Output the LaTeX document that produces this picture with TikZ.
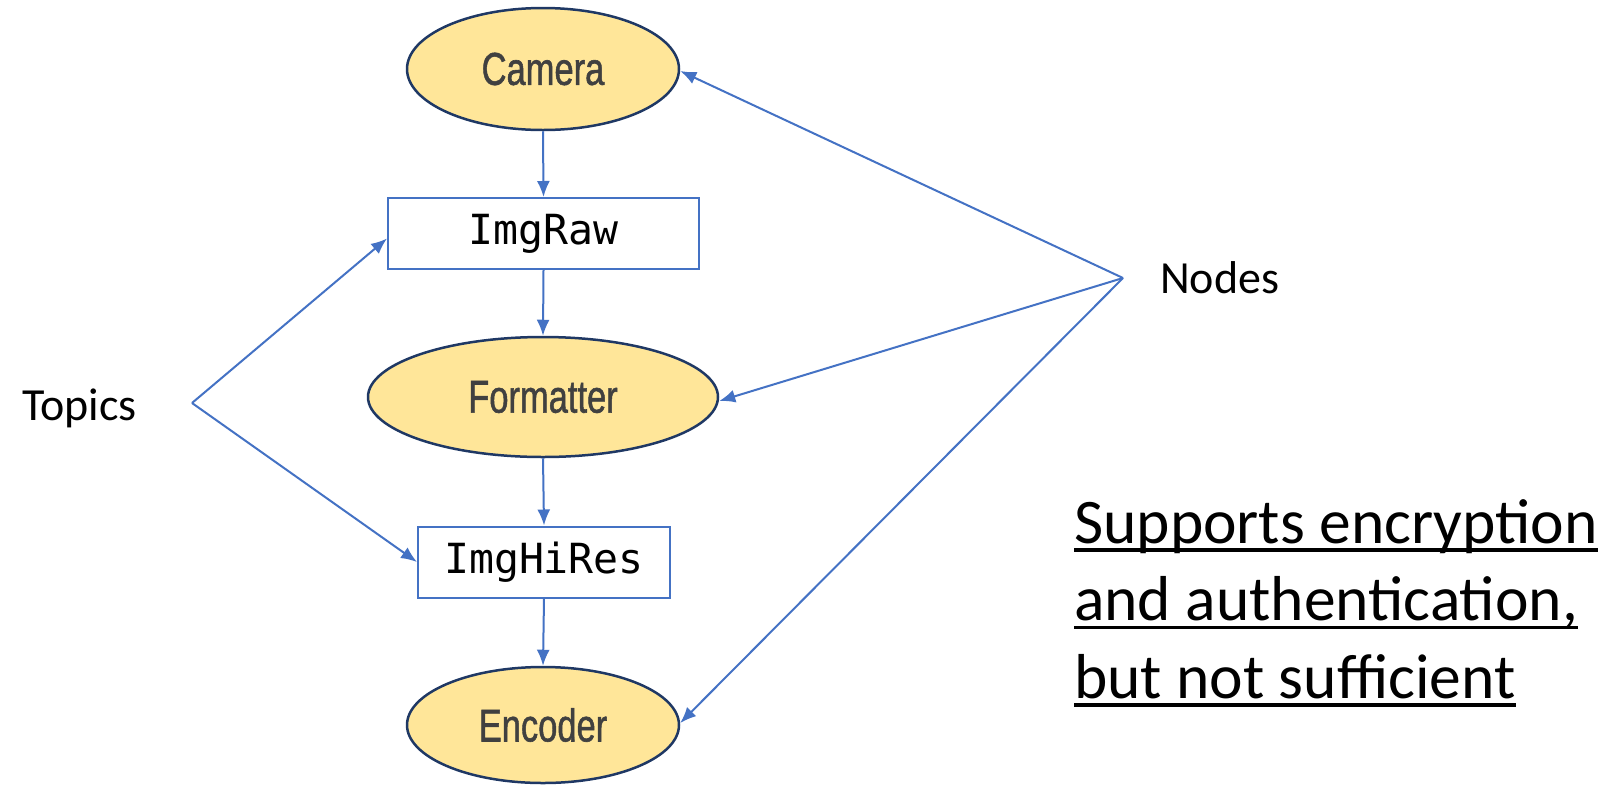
\documentclass[tikz,border=0pt]{standalone}
\usepackage{fontspec}
\setmainfont{Carlito}
\newfontfamily\labelfont[FakeBold=1.3]{Liberation Sans}
\newfontfamily\codefont{DejaVu Sans Mono}
\usetikzlibrary{shapes.geometric,arrows.meta}
\definecolor{linkblue}{HTML}{4472C4}
\definecolor{nodefill}{HTML}{FFE699}
\definecolor{nodeedge}{HTML}{1F3864}
\definecolor{labelgray}{HTML}{404040}
\tikzset{
  procnode/.style={ellipse, draw=nodeedge, line width=2.5pt, fill=nodefill,
    inner sep=0pt, text=labelgray,
    font=\labelfont\fontsize{46}{52}\selectfont},
  topicbox/.style={rectangle, draw=linkblue, line width=2pt, fill=white,
    inner sep=0pt, font=\codefont\fontsize{41.5}{48}\selectfont},
  link/.style={draw=linkblue, line width=2pt, -{Latex[length=16pt,width=13pt]}},
  caption/.style={inner sep=0pt, font=\fontsize{46}{55}\selectfont},
  noteline/.style={inner sep=0pt, font=\fontsize{63.5}{77}\selectfont},
  rule/.style={line width=3.5pt}
}
\newcommand{\narrow}[1]{\scalebox{0.75}[1]{#1}}
\begin{document}
\begin{tikzpicture}[x=1pt,y=-1pt]
\useasboundingbox (0,0) rectangle (1622,785);

% processes and topics of the pipeline
\node[procnode, minimum width=272pt, minimum height=122pt] (cam) at (543,69) {\narrow{Camera}};
\node[topicbox, minimum width=311pt, minimum height=71pt] (raw) at (543.5,233.5) {ImgRaw};
\node[procnode, minimum width=350pt, minimum height=120pt] (fmt) at (543,397) {\narrow{Formatter}};
\node[topicbox, minimum width=252pt, minimum height=71pt] (hires) at (544,562) {ImgHiRes};
\node[procnode, minimum width=272pt, minimum height=116pt] (enc) at (543,725) {\narrow{Encoder}};

% data flow
\draw[link] (cam.south) -- (raw.north);
\draw[link] (raw.south) -- (fmt.north);
\draw[link] (fmt.south) -- (hires.north);
\draw[link] (hires.south) -- (enc.north);

% side labels
\node[caption, anchor=base west] (topics) at (22,420) {Topics};
\coordinate (tp) at (192,403);
\node[caption, anchor=base west] (nodes) at (1160,293) {Nodes};
\coordinate (np) at (1123,278);

\draw[link] (tp) -- ([yshift=-5pt]raw.west);
\draw[link] (tp) -- (hires.west);
\draw[link] (np) -- ([yshift=-2pt]cam.east);
\draw[link] (np) -- ([yshift=-4pt]fmt.east);
\draw[link] (np) -- ([yshift=2pt]enc.east);

% remark
\node[noteline, anchor=base west] (l1) at (1074,543) {Supports encryption};
\node[noteline, anchor=base west] (l2) at (1074,620.5) {and authentication,};
\node[noteline, anchor=base west] (l3) at (1074,698) {but not sufficient};
\draw[rule] ([yshift=-7pt]l1.base west) -- ([yshift=-7pt]l1.base east);
\draw[rule] ([yshift=-7pt]l2.base west) -- ([yshift=-7pt]l2.base east);
\draw[rule] ([yshift=-7pt]l3.base west) -- ([yshift=-7pt]l3.base east);
\end{tikzpicture}
\end{document}
